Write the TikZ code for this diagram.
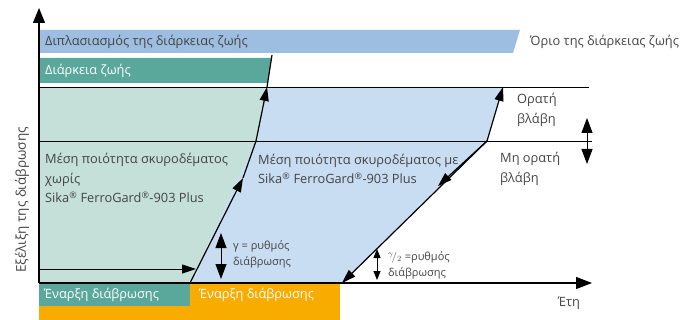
\documentclass[tikz,border=0pt]{standalone}
\usepackage{fontspec}
\setmainfont{Open Sans}
\usetikzlibrary{arrows.meta}
\definecolor{barblue}{HTML}{9DBEE0}
\definecolor{barteal}{HTML}{5AA89B}
\definecolor{fillgreen}{HTML}{C5E0D9}
\definecolor{fillblue}{HTML}{C8DCF2}
\definecolor{barorange}{HTML}{F8AC00}
\definecolor{txtgray}{HTML}{444444}

\begin{document}
\begin{tikzpicture}[x=1pt,y=-1pt,
    lbl/.style={anchor=west,text=txtgray,inner sep=0pt,align=left,
      font=\fontsize{12.8}{19.5}\selectfont},
    barlbl/.style={lbl,text=white},
    small/.style={lbl,font=\fontsize{11}{16}\selectfont},
    curve/.style={line width=1.2pt},
    midhead/.style={-{Triangle[length=14pt,width=9pt]}},
    dblhead/.style={{Triangle[length=15pt,width=11pt]}-{Triangle[length=15pt,width=11pt]}},
    smallhead/.style={{Triangle[length=9pt,width=7pt]}-{Triangle[length=9pt,width=7pt]}}]
        \useasboundingbox (0,0) rectangle (684,320);

        % corner points of the two areas
        \coordinate (o) at (39,283);
        \coordinate (lb) at (190,283);
        \coordinate (lm) at (243,178);
        \coordinate (lk) at (256,141);
        \coordinate (la) at (267,87);
        \coordinate (lt) at (272,55);
        \coordinate (rb) at (342,283);
        \coordinate (rm) at (438,186);
        \coordinate (rk) at (487,141);
        \coordinate (ra) at (503,87);

        \fill[fillgreen] (39,87) -- (la) -- (lk) -- (lb) -- (o) -- cycle;
        \fill[fillblue] (lb) -- (lk) -- (la) -- (ra) -- (rk) -- (rb) -- cycle;

        % bars
        \fill[barblue] (39,30) -- (520,30) -- (513,53) -- (39,53) -- cycle;
        \fill[barteal] (39,58) -- (271.5,58) -- (267.6,83) -- (39,83) -- cycle;
        \fill[barorange] (39,283) rectangle (340,320);
        \fill[barteal] (39,283) rectangle (190,306);

        \node[lbl] (double) at (45,42) {Διπλασιασμός της διάρκειας ζωής};
        \node[lbl] (limit) at (530,42) {Όριο της διάρκειας ζωής};
        \node[barlbl] (life) at (45,71) {Διάρκεια ζωής};
        \node[barlbl] (start1) at (44,295) {Έναρξη διάβρωσης};
        \node[barlbl] (start2) at (199,295) {Έναρξη διάβρωσης};

        % levels
        \draw[line width=0.8pt] (39,87) -- (589,87);
        \draw[line width=0.8pt] (39,141) -- (592,141);

        % axes
        \draw[curve,-{Triangle[length=15pt,width=12pt]}] (o) -- (39,8);
        \draw[curve,-{Triangle[length=16pt,width=12pt]}] (o) -- (592,283);
        \node[lbl,anchor=center,rotate=90,font=\fontsize{13.5}{16}\selectfont] (yaxis) at (22,200) {Εξέλιξη της διάβρωσης};
        \node[lbl] (years) at (558,303) {Έτη};

        % without
        \draw[curve,midhead] (lb) -- (lm);
        \draw[curve] (lm) -- (lk);
        \draw[curve,midhead] (lk) -- (la);
        \draw[curve] (la) -- (lt);
        \coordinate (hs) at (39,269);
        \coordinate (he) at (196,269);
        \draw[line width=0.9pt,midhead] (hs) -- (he);

        % with
        \draw[curve,midhead] (rk) -- (rb);
        \draw[curve,midhead] (rk) -- (rm);
        \draw[curve,midhead] (rk) -- (ra);

        % rates
        \coordinate (g1) at (221,233);
        \coordinate (g2) at (221,279);
        \draw[line width=0.9pt,dblhead] (g1) -- (g2);
        \node[small] (rate1) at (233,254) {γ = ρυθμός\\διάβρωσης};
        \coordinate (h1) at (377,249);
        \coordinate (h2) at (377,280);
        \draw[line width=0.9pt,smallhead] (h1) -- (h2);
        \node[small] (rate2) at (388,265) {$^{\gamma}\!/_{2}$ =ρυθμός\\διάβρωσης};

        \coordinate (v1) at (587,118);
        \coordinate (v2) at (587,164);
        \draw[line width=0.9pt,dblhead] (v1) -- (v2);
        \node[lbl] (seen) at (517,110) {Ορατή\\βλάβη};
        \node[lbl] (unseen) at (500,169) {Μη ορατή\\βλάβη};

        \node[lbl] (noqual) at (45,178) {Μέση ποιότητα σκυροδέματος\\χωρίς\\Sika\textsuperscript{®} FerroGard\textsuperscript{®}-903 Plus};
        \node[lbl] (withqual) at (258,169) {Μέση ποιότητα σκυροδέματος με\\Sika\textsuperscript{®} FerroGard\textsuperscript{®}-903 Plus};
\end{tikzpicture}
\end{document}
